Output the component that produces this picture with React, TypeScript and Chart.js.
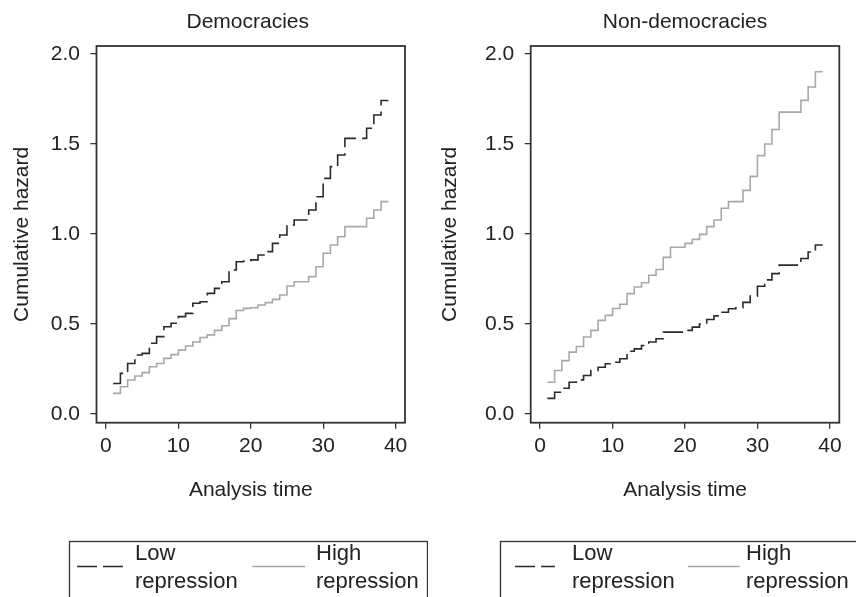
import React, { useEffect, useRef } from "react";
import { Chart, registerables } from "chart.js";

Chart.register(...registerables);

// ---------- data ----------
const times = [1, 2, 3, 4, 5, 6, 7, 8, 9, 10, 11, 12, 13, 14, 15, 16, 17, 18, 19, 20, 21, 22, 23, 24, 25, 26, 27, 28, 29, 30, 31, 32, 33, 34, 35, 36, 37, 38, 39];

const demLow = [0.17, 0.226, 0.281, 0.328, 0.337, 0.393, 0.43, 0.485, 0.504, 0.541, 0.559, 0.615, 0.624, 0.67, 0.698, 0.735, 0.8, 0.846, 0.85, 0.856, 0.883, 0.902, 0.948, 0.994, 1.05, 1.078, 1.078, 1.133, 1.207, 1.309, 1.374, 1.439, 1.531, 1.531, 1.531, 1.587, 1.661, 1.741, 1.741];
const demHigh = [0.115, 0.152, 0.189, 0.211, 0.23, 0.263, 0.281, 0.309, 0.33, 0.355, 0.378, 0.4, 0.425, 0.44, 0.465, 0.49, 0.53, 0.575, 0.587, 0.59, 0.606, 0.619, 0.637, 0.661, 0.711, 0.735, 0.735, 0.763, 0.818, 0.893, 0.939, 0.985, 1.041, 1.041, 1.041, 1.087, 1.133, 1.18, 1.18];
const nonLow = [0.087, 0.121, 0.143, 0.177, 0.19, 0.214, 0.242, 0.26, 0.279, 0.288, 0.307, 0.349, 0.362, 0.381, 0.4, 0.418, 0.455, 0.455, 0.455, 0.465, 0.483, 0.5, 0.525, 0.545, 0.565, 0.585, 0.59, 0.62, 0.655, 0.71, 0.745, 0.78, 0.827, 0.827, 0.827, 0.864, 0.9, 0.939, 0.939];
const nonHigh = [0.177, 0.242, 0.297, 0.344, 0.375, 0.428, 0.465, 0.52, 0.548, 0.586, 0.61, 0.669, 0.706, 0.729, 0.771, 0.803, 0.87, 0.926, 0.926, 0.948, 0.97, 0.998, 1.041, 1.078, 1.143, 1.18, 1.18, 1.242, 1.32, 1.435, 1.5, 1.58, 1.677, 1.677, 1.677, 1.742, 1.816, 1.901, 1.901];

const xTicks = [0, 10, 20, 30, 40];
const yTicks = [0, 0.5, 1, 1.5, 2];
const panelTitles = ["Democracies", "Non-democracies"];
const lowLabel = ["Low", "repression"];
const highLabel = ["High", "repression"];
const xTitle = "Analysis time";
const yTitle = "Cumulative hazard";

// ---------- styles ----------
const FONT = "'Liberation Sans', Arial, Helvetica, sans-serif";
const TEXT = "#222222";
const AXIS = "#333333";
const LOW_COLOR = "#2a2a2a";
const HIGH_COLOR = "#a8a8a8";
const W = 428;
const H = 597;

type LegendGeom = {
  boxLeft: number;
  boxRight: number;
  boxTop: number;
  lowX1: number;
  lowX2: number;
  lowText: number;
  highX1: number;
  highX2: number;
  highText: number;
};

type PanelProps = {
  title: string;
  low: number[];
  high: number[];
  yAxisWidth: number;
  padRight: number;
  titleShift: number;
  legend: LegendGeom;
};

function Panel({ title, low, high, yAxisWidth, padRight, titleShift, legend }: PanelProps) {
  const ref = useRef<HTMLCanvasElement | null>(null);

  useEffect(() => {
    if (!ref.current) return;

    const decor = {
      id: "decor",
      afterDraw(chart: any) {
        const { ctx, chartArea: a } = chart;
        ctx.save();
        // panel title
        ctx.fillStyle = TEXT;
        ctx.font = `21px ${FONT}`;
        ctx.textAlign = "center";
        ctx.textBaseline = "middle";
        ctx.fillText(title, (a.left + a.right) / 2 + titleShift, 22);
        // plot frame
        ctx.strokeStyle = AXIS;
        ctx.lineWidth = 1.8;
        ctx.strokeRect(a.left, a.top, a.right - a.left, a.bottom - a.top);
        // legend box
        ctx.lineWidth = 1.3;
        ctx.strokeStyle = AXIS;
        ctx.strokeRect(legend.boxLeft, legend.boxTop, legend.boxRight - legend.boxLeft, 200);
        const lineY = legend.boxTop + 25;
        ctx.lineWidth = 1.6;
        ctx.strokeStyle = LOW_COLOR;
        ctx.setLineDash([20, 6]);
        ctx.beginPath();
        ctx.moveTo(legend.lowX1, lineY);
        ctx.lineTo(legend.lowX2, lineY);
        ctx.stroke();
        ctx.setLineDash([]);
        ctx.strokeStyle = HIGH_COLOR;
        ctx.beginPath();
        ctx.moveTo(legend.highX1, lineY);
        ctx.lineTo(legend.highX2, lineY);
        ctx.stroke();
        ctx.fillStyle = TEXT;
        ctx.font = `22px ${FONT}`;
        ctx.textBaseline = "middle";
        ctx.textAlign = "left";
        ctx.fillText(lowLabel[0], legend.lowText, legend.boxTop + 12);
        ctx.fillText(lowLabel[1], legend.lowText, legend.boxTop + 40);
        ctx.fillText(highLabel[0], legend.highText, legend.boxTop + 12);
        ctx.fillText(highLabel[1], legend.highText, legend.boxTop + 40);
        ctx.restore();
      },
    };

    const chart = new Chart(ref.current, {
      type: "line",
      data: {
        datasets: [
          {
            label: lowLabel.join(" "),
            data: times.map((t, i) => ({ x: t, y: low[i] })),
            stepped: "before",
            borderColor: LOW_COLOR,
            borderWidth: 1.6,
            borderDash: [20, 6],
            pointRadius: 0,
            fill: false,
          },
          {
            label: highLabel.join(" "),
            data: times.map((t, i) => ({ x: t, y: high[i] })),
            stepped: "before",
            borderColor: HIGH_COLOR,
            borderWidth: 1.6,
            pointRadius: 0,
            fill: false,
          },
        ],
      },
      options: {
        animation: false,
        responsive: false,
        devicePixelRatio: 1,
        layout: { padding: { left: 0, right: padRight, top: 46, bottom: H - 422.7 - 81 } },
        plugins: {
          legend: { display: false },
          tooltip: { enabled: false },
          title: { display: false },
        },
        scales: {
          x: {
            type: "linear",
            min: -1.3,
            max: 41.3,
            afterBuildTicks: (s: any) => {
              s.ticks = xTicks.map((v) => ({ value: v }));
            },
            afterFit: (s: any) => {
              s.height = 81;
            },
            grid: { drawOnChartArea: false, drawTicks: true, tickLength: 6, color: AXIS, lineWidth: 1.3 },
            border: { display: false },
            ticks: {
              color: TEXT,
              font: { family: FONT, size: 21 },
              padding: 5,
              maxRotation: 0,
              autoSkip: false,
              callback: (v: any) => String(v),
            },
            title: {
              display: true,
              text: xTitle,
              color: TEXT,
              font: { family: FONT, size: 21 },
              padding: { top: 0, bottom: 1 },
            },
          },
          y: {
            type: "linear",
            min: -0.048,
            max: 2.044,
            afterBuildTicks: (s: any) => {
              s.ticks = yTicks.map((v) => ({ value: v }));
            },
            afterFit: (s: any) => {
              s.width = yAxisWidth;
            },
            grid: { drawOnChartArea: false, drawTicks: true, tickLength: 6, color: AXIS, lineWidth: 1.3 },
            border: { display: false },
            ticks: {
              color: TEXT,
              font: { family: FONT, size: 21 },
              padding: 10.5,
              autoSkip: false,
              callback: (v: any) => Number(v).toFixed(1),
            },
            title: {
              display: true,
              text: yTitle,
              color: TEXT,
              font: { family: FONT, size: 21 },
              padding: { top: 9.5, bottom: 0 },
            },
          },
        },
      },
      plugins: [decor],
    } as any);

    return () => chart.destroy();
  }, [title, low, high, yAxisWidth, padRight, titleShift, legend]);

  return <canvas ref={ref} width={W} height={H} style={{ width: W, height: H, display: "block" }} />;
}

const leftLegend: LegendGeom = {
  boxLeft: 69.5,
  boxRight: 427.5,
  boxTop: 541.5,
  lowX1: 77,
  lowX2: 124,
  lowText: 135,
  highX1: 252,
  highX2: 305,
  highText: 316,
};

const rightLegend: LegendGeom = {
  boxLeft: 72.5,
  boxRight: 440,
  boxTop: 541.5,
  lowX1: 87,
  lowX2: 127,
  lowText: 144,
  highX1: 260,
  highX2: 312,
  highText: 318,
};

export default function App() {
  return (
    <div
      style={{
        position: "fixed",
        left: 0,
        top: 0,
        width: 856,
        height: 597,
        background: "#ffffff",
        display: "flex",
        overflow: "hidden",
      }}
    >
      <Panel title={panelTitles[0]} low={demLow} high={demHigh} yAxisWidth={96.5} padRight={23} titleShift={-3} legend={leftLegend} />
      <Panel title={panelTitles[1]} low={nonLow} high={nonHigh} yAxisWidth={102.7} padRight={16.7} titleShift={0} legend={rightLegend} />
    </div>
  );
}
